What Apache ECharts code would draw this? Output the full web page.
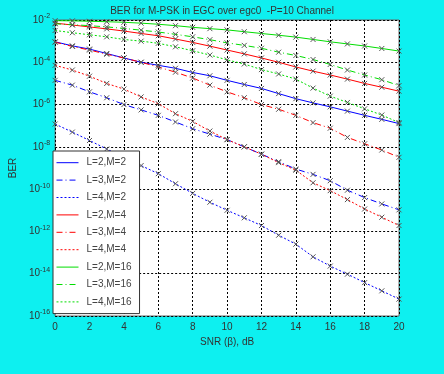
<!DOCTYPE html>
<html>
<head>
<meta charset="utf-8">
<script src="https://cdn.jsdelivr.net/npm/echarts@6/dist/echarts.min.js"></script>
<style>
  html, body { margin: 0; padding: 0; background: #0df0f0; }
  #chart { width: 444px; height: 374px; }
</style>
</head>
<body>
<div id="chart"></div>
<script>
// SNR in dB
var snr = [0, 1, 2, 3, 4, 5, 6, 7, 8, 9, 10, 11, 12, 13, 14, 15, 16, 17, 18, 19, 20];

// BER
var l2m2 = [9.3e-4, 6.0e-4, 4.2e-4, 2.6e-4, 1.6e-4, 1.0e-4, 7.2e-5, 5.2e-5, 3.3e-5, 2.3e-5, 1.4e-5, 8.9e-6, 5.8e-6, 3.3e-6, 1.9e-6, 1.2e-6, 7.8e-7, 4.9e-7, 3.1e-7, 2.0e-7, 1.26e-7];
var l3m2 = [1.4e-5, 8.3e-6, 4.0e-6, 2.1e-6, 1.0e-6, 5.6e-7, 3.1e-7, 1.5e-7, 7.2e-8, 4.0e-8, 2.2e-8, 1.0e-8, 4.5e-9, 2.0e-9, 8.9e-10, 5.0e-10, 2.5e-10, 8.9e-11, 4.0e-11, 2.0e-11, 1.05e-11];
var l4m2 = [1.2e-7, 5.0e-8, 2.0e-8, 7.9e-9, 3.2e-9, 1.3e-9, 5.4e-10, 1.8e-10, 6.3e-11, 2.4e-11, 1.0e-11, 4.4e-12, 1.9e-12, 6.6e-13, 2.5e-13, 6.3e-14, 2.3e-14, 9.5e-15, 3.8e-15, 1.55e-15, 6.3e-16];
var l2m4 = [7.1e-3, 5.8e-3, 4.7e-3, 3.8e-3, 3.0e-3, 2.3e-3, 1.8e-3, 1.26e-3, 8.7e-4, 5.8e-4, 3.8e-4, 2.5e-4, 1.6e-4, 1.0e-4, 6.0e-5, 3.8e-5, 2.5e-5, 1.6e-5, 1.0e-5, 6.6e-6, 4.3e-6];
var l3m4 = [8.9e-4, 5.6e-4, 3.8e-4, 2.4e-4, 1.6e-4, 1.0e-4, 6.0e-5, 3.4e-5, 1.8e-5, 8.3e-6, 4.0e-6, 2.1e-6, 1.0e-6, 6.0e-7, 3.1e-7, 1.4e-7, 7.6e-8, 2.8e-8, 1.4e-8, 7.1e-9, 3.2e-9];
var l4m4 = [7.2e-5, 4.3e-5, 2.2e-5, 1.0e-5, 5.4e-6, 2.3e-6, 1.1e-6, 3.7e-7, 1.6e-7, 5.6e-8, 2.2e-8, 1.0e-8, 4.5e-9, 1.8e-9, 7.9e-10, 2.0e-10, 8.5e-11, 3.2e-11, 1.15e-11, 4.7e-12, 1.9e-12];
var l2m16 = [9.3e-3, 9.1e-3, 8.7e-3, 8.3e-3, 7.8e-3, 7.1e-3, 6.3e-3, 5.4e-3, 4.5e-3, 3.9e-3, 3.4e-3, 2.8e-3, 2.3e-3, 1.9e-3, 1.55e-3, 1.2e-3, 9.3e-4, 7.4e-4, 5.9e-4, 4.5e-4, 3.4e-4];
var l3m16 = [6.6e-3, 6.0e-3, 5.4e-3, 4.7e-3, 4.0e-3, 3.3e-3, 2.7e-3, 2.1e-3, 1.6e-3, 1.17e-3, 8.3e-4, 6.3e-4, 4.6e-4, 3.0e-4, 2.1e-4, 1.35e-4, 7.9e-5, 4.3e-5, 2.5e-5, 1.5e-5, 7.9e-6];
var l4m16 = [3.2e-3, 2.5e-3, 2.0e-3, 1.6e-3, 1.2e-3, 1.0e-3, 7.9e-4, 5.4e-4, 3.5e-4, 2.2e-4, 1.3e-4, 8.3e-5, 4.5e-5, 2.8e-5, 1.6e-5, 6.0e-6, 2.5e-6, 1.26e-6, 6.3e-7, 3.2e-7, 1.4e-7];

var names = ["L=2,M=2", "L=3,M=2", "L=4,M=2", "L=2,M=4", "L=3,M=4", "L=4,M=4", "L=2,M=16", "L=3,M=16", "L=4,M=16"];
var colors = ["#0000ff", "#0000ff", "#0000ff", "#ff0000", "#ff0000", "#ff0000", "#00dd00", "#00dd00", "#00dd00"];

var font = "Liberation Sans";
var dashDot = [6, 3, 1, 3];
var dotted = [2, 2];

function curve(i, data, type) {
  return {
    name: names[i],
    type: "line",
    data: snr.map(function (x, k) { return [x, data[k]]; }),
    symbol: "path://M0,0L10,10M10,0L0,10",
    symbolSize: 5,
    itemStyle: { color: "none", borderColor: "#555", borderWidth: 1 },
    lineStyle: { color: colors[i], width: 1, type: type },
    emphasis: { disabled: true },
    z: 2,
  };
}

var myChart = echarts.init(document.getElementById("chart"));
myChart.setOption({
  backgroundColor: "#0df0f0",
  animation: false,
  color: colors,
  title: {
    text: "BER for M-PSK in EGC over egc0  -P=10 Channel",
    left: "center",
    top: 1,
    textStyle: { fontFamily: font, fontSize: 10, fontWeight: "normal", color: "#333" },
  },
  grid: {
    left: 46,
    right: 45,
    top: 20,
    bottom: 58,
    show: true,
    backgroundColor: "#ffffff",
    borderColor: "#666",
    borderWidth: 1,
  },
  legend: {
    orient: "vertical",
    left: 53,
    top: 151,
    data: names,
    backgroundColor: "#ffffff",
    borderColor: "#333",
    borderWidth: 1,
    borderRadius: 0,
    padding: [6, 8, 6, 3],
    itemWidth: 22,
    itemHeight: 8,
    itemGap: 6,
    itemStyle: { opacity: 0 },
    lineStyle: { width: 1, color: "inherit" },
    textStyle: { fontFamily: font, fontSize: 10, color: "#444", padding: [0, 0, 0, 3] },
  },
  xAxis: {
    type: "value",
    min: 0,
    max: 20,
    interval: 2,
    name: "SNR (β), dB",
    nameLocation: "middle",
    nameGap: 20,
    nameTextStyle: { fontFamily: font, fontSize: 10, color: "#333" },
    axisLine: { show: false },
    axisTick: { show: false },
    axisLabel: { fontFamily: font, fontSize: 10, color: "#333", margin: 6 },
    splitLine: { show: true, lineStyle: { color: "#000", type: [2, 2], width: 1 } },
  },
  yAxis: {
    type: "log",
    logBase: 10,
    min: 1e-16,
    max: 1e-2,
    interval: 2,
    name: "BER",
    nameLocation: "middle",
    nameGap: 32,
    nameTextStyle: { fontFamily: font, fontSize: 10, color: "#333" },
    axisLine: { show: false },
    axisTick: { show: false },
    minorTick: { show: false },
    axisLabel: {
      fontFamily: font,
      fontSize: 10,
      color: "#333",
      margin: 5,
      formatter: function (v) {
        return "10{sup|" + Math.round(Math.log10(v)) + "}";
      },
      rich: {
        sup: { fontFamily: font, fontSize: 7, color: "#333", verticalAlign: "top", padding: [0, 0, 7, 0] },
      },
    },
    splitLine: { show: true, lineStyle: { color: "#000", type: [2, 2], width: 1 } },
  },
  series: [
    curve(0, l2m2, "solid"),
    curve(1, l3m2, dashDot),
    curve(2, l4m2, dotted),
    curve(3, l2m4, "solid"),
    curve(4, l3m4, dashDot),
    curve(5, l4m4, dotted),
    curve(6, l2m16, "solid"),
    curve(7, l3m16, dashDot),
    curve(8, l4m16, dotted),
  ],
});
</script>
</body>
</html>
